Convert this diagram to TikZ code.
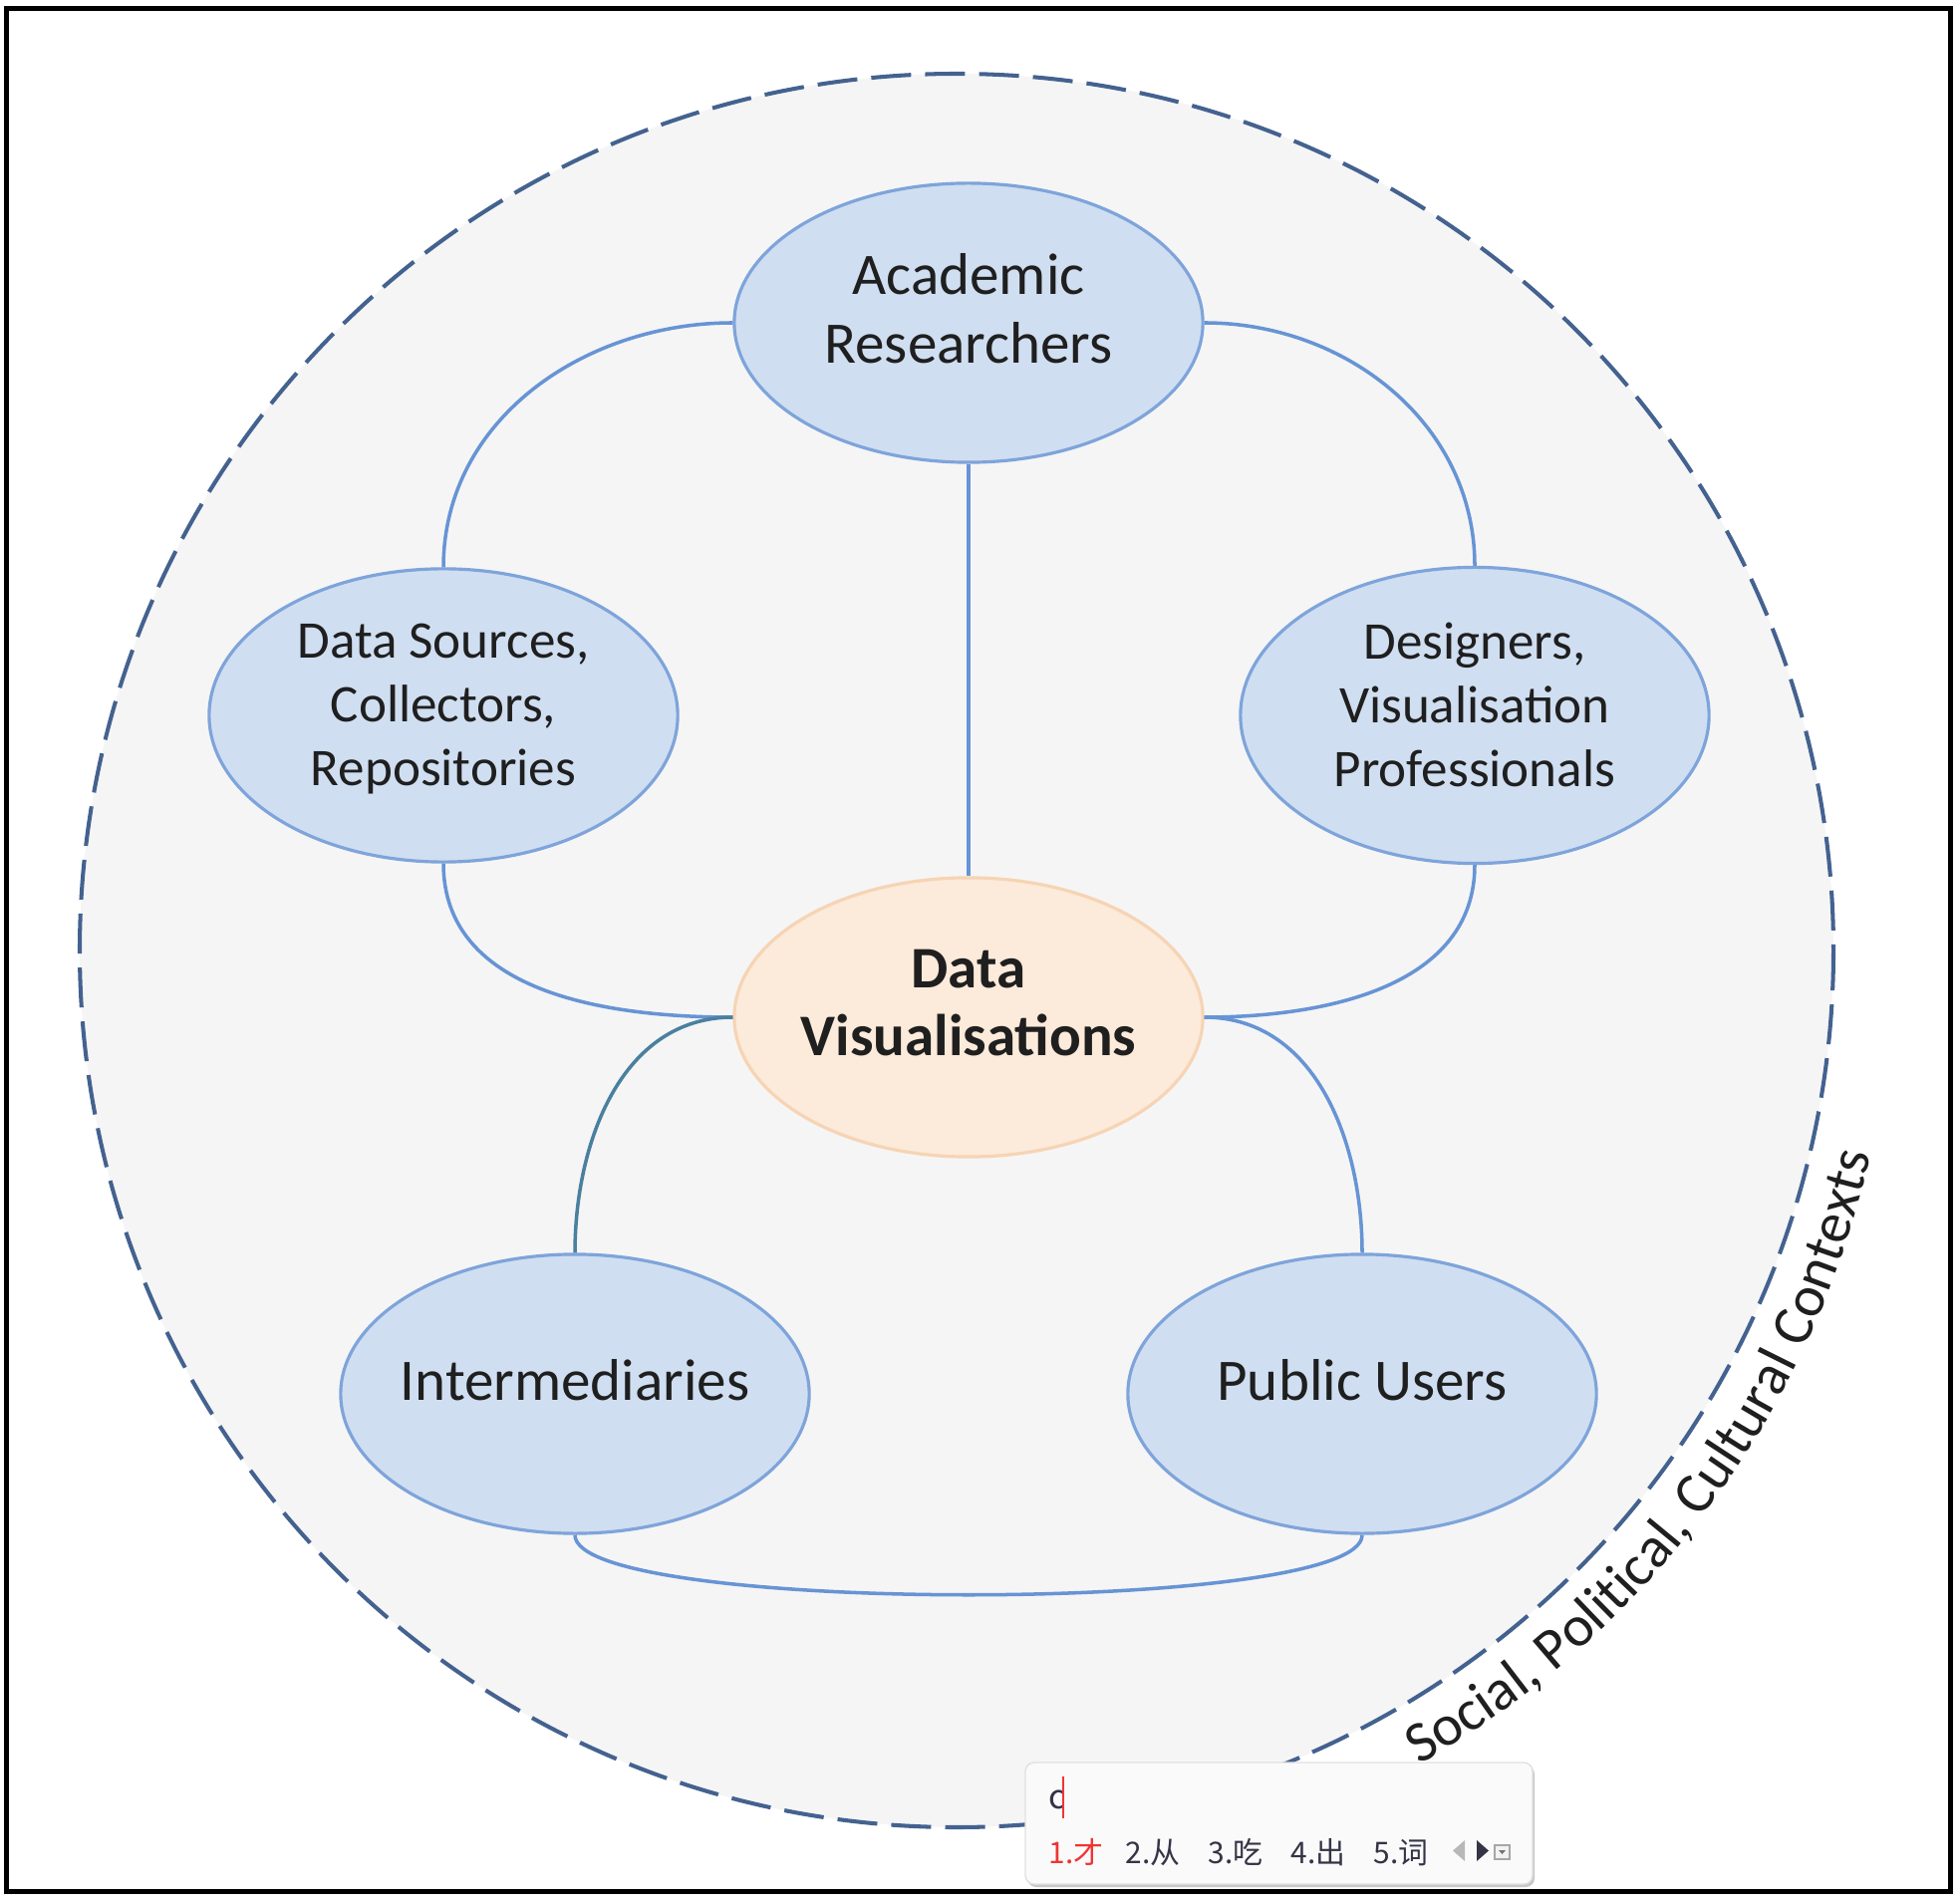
\documentclass[tikz,border=0pt]{standalone}
\usepackage{fontspec}
\setmainfont{Carlito}
\newfontfamily\cjkfont{Noto Sans CJK SC}
\usetikzlibrary{shapes.geometric,decorations.text}

\definecolor{roleFill}{RGB}{208,222,241}
\definecolor{roleLine}{RGB}{126,164,218}
\definecolor{visFill}{RGB}{252,234,218}
\definecolor{visLine}{RGB}{246,212,180}
\definecolor{linkBlue}{RGB}{103,148,212}
\definecolor{linkTeal}{RGB}{74,128,158}
\definecolor{ringLine}{RGB}{68,98,143}
\definecolor{ringFill}{RGB}{245,245,246}
\definecolor{imeText}{RGB}{52,52,70}
\definecolor{imeRed}{RGB}{240,52,52}

\newcommand{\roleFont}{\fontsize{16.8}{19.4}\selectfont}
\newcommand{\roleFontS}{\fontsize{15.1}{18.2}\selectfont}
\newcommand{\ctxFont}{\fontsize{16.5}{19}\selectfont}
\newcommand{\imeFont}{\cjkfont\fontsize{8.5}{10}\selectfont}

\newcommand{\setup}{
    \coordinate (mid)    at (960,954);  % ring centre
    \coordinate (pAcad)  at (972,324);
    \coordinate (pSrc)   at (445,718);
    \coordinate (pDsgn)  at (1480,718);
    \coordinate (pVis)   at (972,1021);
    \coordinate (pInter) at (577,1399);
    \coordinate (pPub)   at (1367,1399);
}

\tikzset{
    role/.style={ellipse, draw=roleLine, line width=0.9pt, fill=roleFill,
        minimum width=4.7cm, minimum height=2.8cm, inner xsep=-4pt,
        align=center, text=black!88, font=\roleFont, text depth=8.25pt},
    roleS/.style={font=\roleFontS, text depth=6.3pt},
    vis/.style={role, draw=visLine, fill=visFill, font=\roleFont\bfseries},
    link/.style={draw=linkBlue, line width=1pt},
    ring/.style={draw=ringLine, line width=1.15pt, dash pattern=on 11.4pt off 4pt},
    ime/.style={inner sep=0pt, text=imeText, font=\imeFont}
}

\begin{document}
\begin{tikzpicture}[x=0.01cm, y=-0.01cm]
    \useasboundingbox (0,0) rectangle (1967,1907);
    \setup;

    \fill[ringFill] (mid) circle[radius=880];
    \draw[ring] (mid) circle[radius=880];

    \node[role] (acad) at (pAcad) {Academic\\Researchers};
    \node[role, roleS] (src) at (pSrc) {Data Sources,\\Collectors,\\Repositories};
    \node[role, roleS] (dsgn) at (pDsgn) {Designers,\\Visualisation\\Professionals};
    \node[vis] (vis) at (pVis) {Data\\Visualisations};
    \node[role] (inter) at (pInter) {Intermediaries};
    \node[role] (pub) at (pPub) {Public Users};

    \draw[link] (acad.south) -- (vis.north);
    \draw[link] (acad.west) to[out=180,in=90] (src.north);
    \draw[link] (acad.east) to[out=0,in=90] (dsgn.north);
    \draw[link] (src.south) to[out=-90,in=180] (vis.west);
    \draw[link] (dsgn.south) to[out=-90,in=0] (vis.east);
    \draw[link, draw=linkTeal] (vis.west) to[out=180,in=90] (inter.north);
    \draw[link] (vis.east) to[out=0,in=90] (pub.north);
    \draw[link] (inter.south) to[out=-90,in=-90,looseness=0.26] (pub.south);

    % text round the ring
    \path[decorate, decoration={text along path, text align=center,
        text={|\ctxFont\color{black!88}|Social, Political, Cultural Contexts}}]
        (mid) ++(61:940) arc[start angle=61, end angle=12, radius=940];

    % input method box
    \fill[black!22, rounded corners=2.5pt] (1031,1772) rectangle (1540,1894);
    \draw[black!12, fill=black!2, rounded corners=2.5pt] (1029,1769) rectangle (1538,1891);
    \node[ime, font=\imeFont\fontsize{9.5}{11}\selectfont, anchor=base west] (typed) at (1052,1815) {c};
    \draw[imeRed, line width=0.3pt] (1067,1783) -- (1067,1825);
    \node[ime, text=imeRed, anchor=base west] (cand1) at (1052,1870) {1.才};
    \node[ime, anchor=base west] (cand2) at (1129,1870) {2.从};
    \node[ime, anchor=base west] (cand3) at (1212,1870) {3.吃};
    \node[ime, anchor=base west] (cand4) at (1295,1870) {4.出};
    \node[ime, anchor=base west] (cand5) at (1378,1870) {5.词};
    \fill[black!28] (1470,1847) -- (1458,1857.5) -- (1470,1868) -- cycle;
    \fill[imeText] (1482,1847) -- (1494,1857.5) -- (1482,1868) -- cycle;
    \draw[black!35, fill=black!5, line width=0.3pt] (1500,1852) rectangle (1515,1866);
    \fill[black!55] (1504,1857) -- (1511,1857) -- (1507.5,1861) -- cycle;

    \draw[line width=1.42pt] (6.5,8.5) rectangle (1957.5,1898.5); % frame
\end{tikzpicture}
\end{document}
